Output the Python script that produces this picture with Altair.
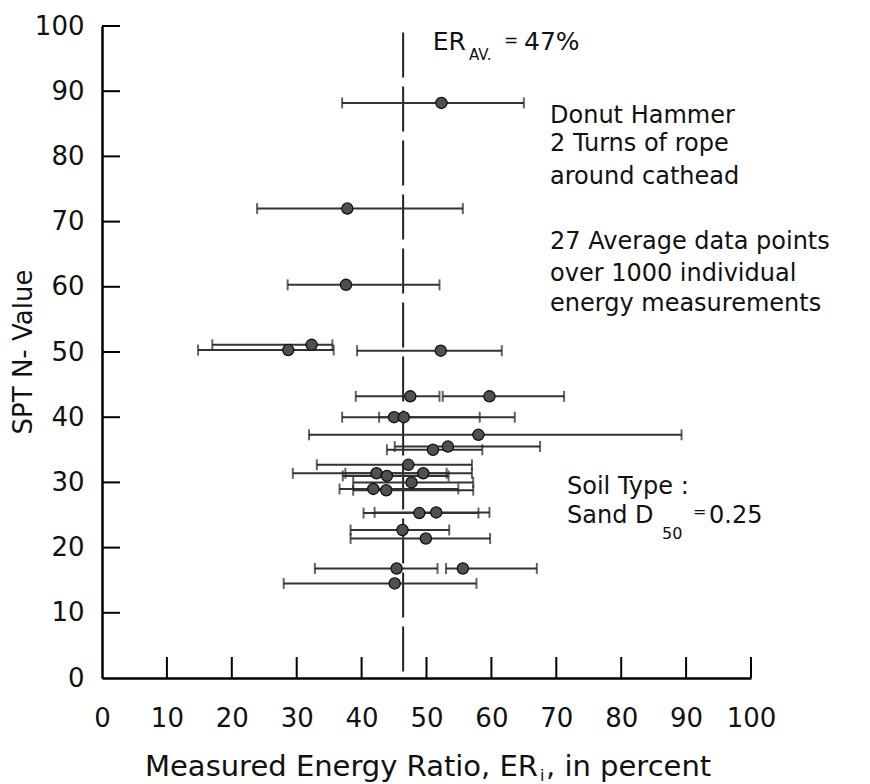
import altair as alt
import pandas as pd

# ---- data ----
er_mean = [52.3, 37.8, 37.6, 28.7, 32.3, 52.2, 47.5, 59.7, 45.0, 46.5, 58.0, 51.0, 53.3,
           47.2, 42.3, 43.9, 49.5, 47.7, 41.8, 43.8, 48.9, 51.5, 46.3, 49.9, 45.4, 55.6, 45.1]
n_value = [88.2, 72.0, 60.3, 50.3, 51.1, 50.2, 43.2, 43.2, 40.0, 40.0, 37.3, 35.0, 35.5,
           32.7, 31.4, 31.0, 31.4, 30.0, 29.0, 28.8, 25.3, 25.4, 22.7, 21.4, 16.8, 16.8, 14.5]
er_low = [37.0, 23.9, 28.6, 14.8, 17.0, 39.3, 39.1, 52.5, 37.0, 42.7, 31.9, 43.9, 45.1,
          33.1, 29.4, 37.1, 37.5, 38.7, 36.6, 38.7, 40.3, 42.0, 38.3, 38.3, 32.8, 53.0, 28.0]
er_high = [65.0, 55.6, 52.0, 35.7, 35.5, 61.6, 52.0, 71.2, 58.2, 63.6, 89.3, 58.6, 67.5,
           57.0, 53.1, 53.4, 57.0, 57.2, 54.9, 57.2, 58.0, 59.7, 53.5, 59.8, 51.7, 67.0, 57.7]
er_avg_line = [46.4]
axis_ticks = [0, 10, 20, 30, 40, 50, 60, 70, 80, 90, 100]
inner_ticks = [10, 20, 30, 40, 50, 60, 70, 80, 90, 100]

df = pd.DataFrame({"x": er_mean, "y": n_value, "lo": er_low, "hi": er_high})
avg_df = pd.DataFrame({"x": er_avg_line, "y0": [1.0], "y1": [100.0]})
tick_df = pd.DataFrame({"t": inner_ticks})

W, H = 649, 652
FONT = "DejaVu Sans"
INK = "#111111"

xs = alt.Scale(domain=[0, 100], nice=False, zero=False)
ys = alt.Scale(domain=[0, 100], nice=False, zero=False)
x_axis = alt.Axis(values=axis_ticks, title=None, ticks=False, grid=False,
                  domainColor="black", domainWidth=2.5, labelFont=FONT,
                  labelFontSize=26, labelColor=INK, labelPadding=48,
                  labelBaseline="alphabetic", labelFlush=False, labelOverlap=False)
y_axis = alt.Axis(values=axis_ticks, title=None, ticks=False, grid=False,
                  domainColor="black", domainWidth=2.5, labelFont=FONT,
                  labelFontSize=26, labelColor=INK, labelPadding=18,
                  labelBaseline="middle", labelFlush=False, labelOverlap=False)


def X(field):
    return alt.X(field, type="quantitative", scale=xs, axis=x_axis)


def Y(field):
    return alt.Y(field, type="quantitative", scale=ys, axis=y_axis)


base = alt.Chart(df)

avg = alt.Chart(avg_df).mark_rule(color="#222222", strokeWidth=2, strokeDash=[45, 9]).encode(
    x=X("x"), y=Y("y0"), y2="y1")

bars = base.mark_rule(color="#333333", strokeWidth=2).encode(x=X("lo"), x2="hi", y=Y("y"))

caps = base.transform_fold(["lo", "hi"], as_=["end", "xe"]).mark_tick(
    orient="vertical", size=11, thickness=2, color="#222222").encode(x=X("xe"), y=Y("y"))

pts = base.mark_circle(size=125, color="#505050", stroke="#111111", strokeWidth=1.3,
                       opacity=1).encode(x=X("x"), y=Y("y"))

xt = alt.Chart(tick_df).mark_rule(color="black", strokeWidth=2).encode(
    x=X("t"), y=alt.value(H), y2=alt.value(H - 21))
yt = alt.Chart(tick_df).mark_rule(color="black", strokeWidth=2).encode(
    y=Y("t"), x=alt.value(0), x2=alt.value(18))

one = pd.DataFrame({"a": [0]})


def txt(s, x, y, size=25, align="left", angle=0, baseline="alphabetic"):
    return alt.Chart(one).mark_text(
        text=s, font=FONT, fontSize=size, color=INK, align=align,
        baseline=baseline, angle=angle).encode(x=alt.value(x), y=alt.value(y))


# page coordinates -> plot coordinates (origin at page 102, 26)
def T(s, px, py, **kw):
    return txt(s, px - 102, py - 26, **kw)


texts = [
    T("ER", 466, 50, size=25, align="right"),
    T("AV.", 469, 60, size=15),
    T("=", 504, 46, size=17),
    T("47%", 524, 50, size=25),
    T("Donut Hammer", 550, 123, size=24),
    T("2 Turns of rope", 550, 151, size=24),
    T("around  cathead", 550, 184, size=24),
    T("27 Average data points", 550, 249, size=24),
    T("over 1000 individual", 550, 281, size=24),
    T("energy measurements", 550, 311, size=24),
    T("Soil Type :", 567, 494, size=24),
    T("Sand D", 567, 523, size=24),
    T("50", 662, 539, size=16),
    T("=", 693, 517, size=16),
    T("0.25", 709, 523, size=24),
    T("Measured Energy Ratio, ER", 538, 776, size=29, align="right"),
    T("i", 540, 781, size=16),
    T(", in percent", 546, 776, size=29),
    T("SPT N- Value", 24, 352, size=26, align="center", angle=270, baseline="middle"),
]

chart = alt.layer(avg, bars, caps, pts, xt, yt, *texts).properties(
    width=W, height=H,
    padding={"left": 94, "top": 18, "right": 103, "bottom": 106},
    autosize=alt.AutoSizeParams(type="none"),
    background="white",
).configure_view(stroke=None)

chart.save("out.html", embed_options={"renderer": "svg", "actions": False})
